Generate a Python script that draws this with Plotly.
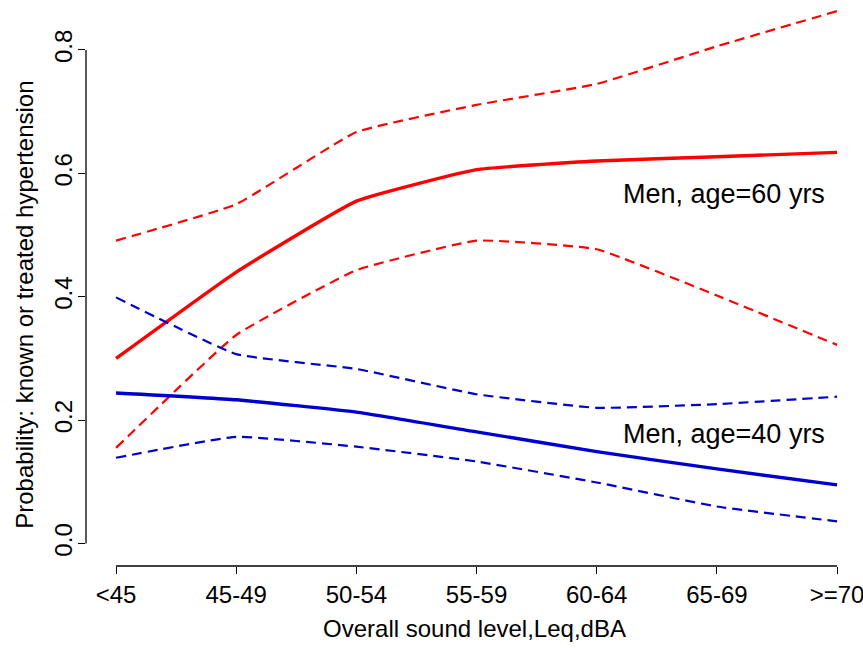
import plotly.graph_objects as go

categories = ["<45", "45-49", "50-54", "55-59", "60-64", "65-69", ">=70"]

men60_est = [0.300, 0.440, 0.555, 0.606, 0.620, 0.627, 0.634]
men60_upper = [0.491, 0.550, 0.667, 0.711, 0.745, 0.806, 0.863]
men60_lower = [0.155, 0.338, 0.443, 0.491, 0.477, 0.402, 0.322]

men40_est = [0.244, 0.233, 0.213, 0.181, 0.149, 0.121, 0.095]
men40_upper = [0.399, 0.307, 0.283, 0.242, 0.220, 0.226, 0.238]
men40_lower = [0.139, 0.173, 0.157, 0.133, 0.099, 0.060, 0.036]

y_ticks = [0.0, 0.2, 0.4, 0.6, 0.8]
y_ticktext = ["0.0", "0.2", "0.4", "0.6", "0.8"]

x_title = "Overall sound level,Leq,dBA"
y_title = "Probability: known or treated hypertension"
label60 = "Men, age=60 yrs"
label40 = "Men, age=40 yrs"

RED = "#FF0000"
BLUE = "#0000CD"
FONT = "Liberation Sans, Arial, Helvetica, sans-serif"

xs = list(range(len(categories)))

fig = go.Figure()

def add(y, color, width, dash):
    fig.add_trace(go.Scatter(
        x=xs, y=y, mode="lines",
        line=dict(color=color, width=width, dash=dash, shape="spline", smoothing=0.35),
        showlegend=False, hoverinfo="skip"))

add(men60_upper, RED, 2.2, "10px,6px")
add(men60_lower, RED, 2.2, "10px,6px")
add(men60_est, RED, 3.4, "solid")
add(men40_upper, BLUE, 2.2, "10px,6px")
add(men40_lower, BLUE, 2.2, "10px,6px")
add(men40_est, BLUE, 3.4, "solid")

# R-style axis lines spanning first to last tick
fig.add_shape(type="line", xref="paper", yref="y", x0=0, x1=0,
              y0=y_ticks[0], y1=y_ticks[-1], line=dict(color="black", width=1.3))
fig.add_shape(type="line", xref="x", yref="paper", x0=xs[0], x1=xs[-1],
              y0=0, y1=0, line=dict(color="black", width=1.3))

fig.add_annotation(x=5.915, y=0.566, xref="x", yref="y", text=label60,
                   showarrow=False, xanchor="right", yanchor="middle",
                   font=dict(family=FONT, size=27, color="black"))
fig.add_annotation(x=5.915, y=0.178, xref="x", yref="y", text=label40,
                   showarrow=False, xanchor="right", yanchor="middle",
                   font=dict(family=FONT, size=27, color="black"))

# y-axis title placed R-style
fig.add_annotation(x=-0.0785, y=0.4616, xref="paper", yref="paper", text=y_title,
                   showarrow=False, textangle=-90, xanchor="center", yanchor="middle",
                   font=dict(family=FONT, size=24, color="black"))

fig.update_layout(
    width=863, height=648,
    margin=dict(l=86, r=0, t=0, b=82),
    paper_bgcolor="white", plot_bgcolor="white",
    font=dict(family=FONT, size=24, color="black"),
    xaxis=dict(
        range=[-0.25, 6.216], tickvals=xs, ticktext=categories,
        showgrid=False, zeroline=False, showline=False,
        ticks="outside", ticklen=7, tickwidth=1.3, tickcolor="black",
        tickfont=dict(size=24), ticklabeloverflow="allow",
        title=dict(text=x_title, font=dict(size=24), standoff=13),
    ),
    yaxis=dict(
        range=[-0.0364, 0.881], tickvals=y_ticks, ticktext=y_ticktext,
        tickangle=-90, ticklabelstandoff=-4,
        showgrid=False, zeroline=False, showline=False,
        ticks="outside", ticklen=7, tickwidth=1.3, tickcolor="black",
        tickfont=dict(size=24),
    ),
)

fig.write_html("out.html")
